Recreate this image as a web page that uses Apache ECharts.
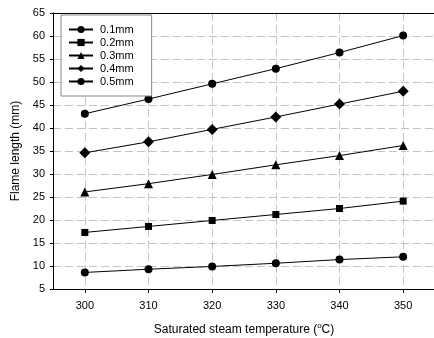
<!DOCTYPE html>
<html>
<head>
<meta charset="utf-8">
<script src="https://cdn.jsdelivr.net/npm/echarts@6/dist/echarts.min.js"></script>
<style>
  html, body { margin: 0; padding: 0; background: #fff; }
  #container { width: 434px; height: 338px; }
</style>
</head>
<body>
<div id="container"></div>
<script>
const temps = ["300", "310", "320", "330", "340", "350"];
const seriesNames = ["0.1mm", "0.2mm", "0.3mm", "0.4mm", "0.5mm"];
const d01 = [8.6, 9.3, 9.9, 10.6, 11.4, 12.0];
const d02 = [17.3, 18.6, 19.9, 21.2, 22.5, 24.1];
const d03 = [26.1, 27.9, 29.9, 32.0, 34.0, 36.2];
const d04 = [34.6, 37.0, 39.7, 42.4, 45.2, 48.0];
const d05 = [43.1, 46.3, 49.6, 52.9, 56.4, 60.1];

const font = "Liberation Sans, Arial, sans-serif";
const symbols = ["circle", "rect", "triangle", "diamond", "circle"];
const sizes = [8, 7, 9, 11, 8];
const allData = [d01, d02, d03, d04, d05];

const series = allData.map((d, i) => ({
  name: seriesNames[i],
  type: "line",
  data: d,
  symbol: symbols[i],
  symbolSize: sizes[i],
  showAllSymbol: true,
  lineStyle: { color: "#000", width: 1 },
  itemStyle: { color: "#000" },
  animation: false,
}));

const dashed = { color: "#c4c4c4", width: 1, type: [8, 4] };

const chart = echarts.init(document.getElementById("container"));
chart.setOption({
  animation: false,
  grid: { left: 53, right: -1, top: 13, bottom: 49, show: false, containLabel: false, outerBoundsMode: "none" },
  legend: {
    orient: "vertical",
    left: 61,
    top: 15,
    padding: [9, 18, 9, 7],
    itemWidth: 24,
    itemHeight: 9,
    itemGap: 2,
    backgroundColor: "#fff",
    borderColor: "#888",
    borderWidth: 1,
    borderRadius: 0,
    textStyle: { fontFamily: font, fontSize: 11, color: "#000", padding: [0, 0, 0, 2] },
    data: seriesNames,
  },
  xAxis: [{
    type: "category",
    data: temps,
    boundaryGap: true,
    name: "{n|Saturated steam temperature (}{s|o}{n|C)}",
    nameLocation: "middle",
    nameGap: 33,
    nameTextStyle: {
      rich: {
        n: { fontFamily: font, fontSize: 12, color: "#000" },
        s: { fontFamily: font, fontSize: 8, color: "#000", verticalAlign: "bottom", padding: [0, 0, 8, 0] },
      },
    },
    axisLine: { lineStyle: { color: "#000", width: 1 } },
    axisTick: { show: true, alignWithLabel: true, length: 4, lineStyle: { color: "#000" } },
    axisLabel: { fontFamily: font, fontSize: 11, color: "#000", margin: 11 },
    splitLine: { show: true, alignWithLabel: true, lineStyle: dashed },
  }, {
    type: "category",
    position: "top",
    data: temps,
    axisLine: { lineStyle: { color: "#000", width: 1 } },
    axisTick: { show: false },
    axisLabel: { show: false },
    splitLine: { show: false },
  }],
  yAxis: {
    type: "value",
    min: 5,
    max: 65,
    interval: 5,
    name: "Flame length (mm)",
    nameLocation: "middle",
    nameGap: 29,
    nameTextStyle: { fontFamily: font, fontSize: 12, color: "#000" },
    axisLine: { show: true, lineStyle: { color: "#000", width: 1 } },
    axisTick: { show: true, length: 3, lineStyle: { color: "#000" } },
    axisLabel: { fontFamily: font, fontSize: 11, color: "#000", margin: 8 },
    splitLine: { show: true, lineStyle: dashed },
  },
  series: series,
});
</script>
</body>
</html>
